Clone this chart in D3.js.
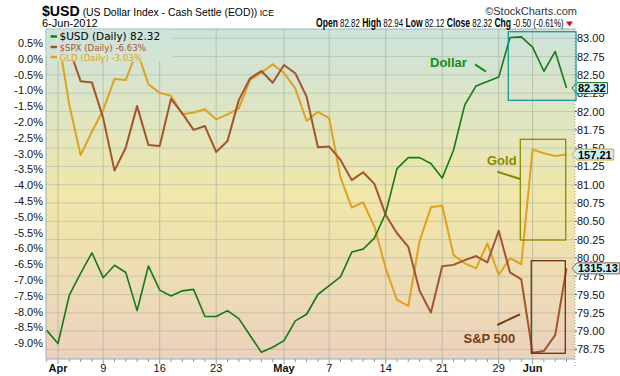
<!DOCTYPE html>
<html>
<head>
<meta charset="utf-8">
<script src="https://cdn.jsdelivr.net/npm/d3@7"></script>
<style>
  body { margin: 0; background: #fff; }
  svg { display: block; }
  text { font-family: "Liberation Sans", Arial, sans-serif; }
</style>
</head>
<body>
<svg width="620" height="376"></svg>
<script>
// trading days shown on the chart
var dates = ["2012-03-30",
  "2012-04-02","2012-04-03","2012-04-04","2012-04-05",
  "2012-04-09","2012-04-10","2012-04-11","2012-04-12","2012-04-13",
  "2012-04-16","2012-04-17","2012-04-18","2012-04-19","2012-04-20",
  "2012-04-23","2012-04-24","2012-04-25","2012-04-26","2012-04-27",
  "2012-04-30","2012-05-01","2012-05-02","2012-05-03","2012-05-04",
  "2012-05-07","2012-05-08","2012-05-09","2012-05-10","2012-05-11",
  "2012-05-14","2012-05-15","2012-05-16","2012-05-17","2012-05-18",
  "2012-05-21","2012-05-22","2012-05-23","2012-05-24","2012-05-25",
  "2012-05-29","2012-05-30","2012-05-31","2012-06-01",
  "2012-06-04","2012-06-05","2012-06-06"];

// $USD close (right axis)
var usd = [79.01, 78.83, 79.49, 79.79, 80.07, 79.73, 79.90, 79.80, 79.28, 79.89,
  79.56, 79.48, 79.55, 79.57, 79.20, 79.20, 79.28, 79.17, 78.94, 78.71,
  78.78, 78.87, 79.14, 79.23, 79.50, 79.62, 79.74, 80.08, 80.12, 80.27,
  80.61, 81.22, 81.37, 81.37, 81.29, 81.09, 81.47, 82.09, 82.35, 82.41,
  82.47, 83.01, 83.02, 82.88, 82.55, 82.82, 82.32];

// $SPX % change (left axis)
var spx = [0, 0.75, 0.32, -0.71, -0.75, -1.88, -3.54, -2.81, -1.50, -2.73,
  -2.76, -1.27, -1.73, -2.25, -2.13, -2.95, -2.60, -1.31, -0.62, -0.39,
  -0.76, -0.20, -0.46, -1.20, -2.80, -2.78, -3.20, -3.84, -3.59, -3.96,
  -4.94, -5.52, -5.95, -7.34, -8.03, -6.56, -6.52, -6.37, -6.24, -6.44,
  -5.44, -6.76, -6.98, -9.30, -9.24, -8.74, -6.63];

// GLD % change (left axis)
var gld = [0, 0.75, -1.46, -3.05, -2.31, -1.62, -0.64, -0.67, 0.25, -0.81,
  -1.08, -1.17, -1.76, -1.70, -1.60, -1.92, -1.76, -1.57, -0.67, -0.44,
  -0.18, -0.45, -0.94, -1.97, -1.68, -1.88, -3.76, -4.71, -4.54, -5.31,
  -6.63, -7.63, -7.82, -5.77, -4.70, -4.65, -6.21, -6.47, -6.63, -5.84,
  -6.84, -6.31, -6.50, -2.87, -2.99, -3.08, -3.03];

var pctTicks = [0.5, 0, -0.5, -1, -1.5, -2, -2.5, -3, -3.5, -4, -4.5, -5,
  -5.5, -6, -6.5, -7, -7.5, -8, -8.5, -9];
var priceTicks = [83, 82.75, 82.5, 82.25, 82, 81.75, 81.5, 81.25, 81, 80.75,
  80.5, 80.25, 80, 79.75, 79.5, 79.25, 79, 78.75];
var tickDates = ["2012-04-02","2012-04-09","2012-04-16","2012-04-23","2012-05-01",
  "2012-05-07","2012-05-14","2012-05-21","2012-05-29","2012-06-01"];
var tickLabels = ["Apr","9","16","23","May","7","14","21","29","Jun"];

var svg = d3.select("svg");
var pLeft = 46, pRight = 575, pTop = 29, pBottom = 359;

var x = d3.scalePoint().domain(dates).range([46.7, 566.5]);
var yL = d3.scaleLinear().domain([0, -9]).range([58.7, 343.3]);
var yR = d3.scaleLinear().domain([83, 78.75]).range([38.3, 349.4]);

var defs = svg.append("defs");
var grad = defs.append("linearGradient").attr("id", "bg")
    .attr("gradientUnits", "userSpaceOnUse")
    .attr("x1", 0).attr("y1", pTop).attr("x2", 0).attr("y2", pBottom);
grad.append("stop").attr("offset", "0%").attr("stop-color", "#cce3dc");
grad.append("stop").attr("offset", "50%").attr("stop-color", "#f1e7a9");
grad.append("stop").attr("offset", "100%").attr("stop-color", "#ebd2bd");
defs.append("clipPath").attr("id", "clip").append("rect")
    .attr("x", pLeft).attr("y", pTop).attr("width", pRight - pLeft).attr("height", pBottom - pTop);

svg.append("rect").attr("x", pLeft).attr("y", pTop)
   .attr("width", pRight - pLeft).attr("height", pBottom - pTop)
   .attr("fill", "url(#bg)");

// grid
svg.append("g").selectAll("line").data(priceTicks).enter().append("line")
   .attr("x1", pLeft).attr("x2", pRight)
   .attr("y1", function(d) { return yR(d); }).attr("y2", function(d) { return yR(d); })
   .attr("stroke", "#a8b2a4").attr("stroke-opacity", 0.55);
svg.append("g").selectAll("line").data(tickDates).enter().append("line")
   .attr("x1", function(d) { return x(d); }).attr("x2", function(d) { return x(d); })
   .attr("y1", pTop).attr("y2", pBottom)
   .attr("stroke", "#a8b2a4").attr("stroke-opacity", 0.7);

// series
var plot = svg.append("g").attr("clip-path", "url(#clip)");
var linePct = d3.line().x(function(d, i) { return x(dates[i]); }).y(function(d) { return yL(d); });
var linePrice = d3.line().x(function(d, i) { return x(dates[i]); }).y(function(d) { return yR(d); });

plot.append("path").attr("d", linePct(gld)).attr("fill", "none")
    .attr("stroke", "#dea21f").attr("stroke-width", 2).attr("stroke-linejoin", "round");
plot.append("path").attr("d", linePct(spx)).attr("fill", "none")
    .attr("stroke", "#a4532f").attr("stroke-width", 2).attr("stroke-linejoin", "round");
plot.append("path").attr("d", linePrice(usd)).attr("fill", "none")
    .attr("stroke", "#147a14").attr("stroke-width", 1.6).attr("stroke-linejoin", "round");

// frame
svg.append("line").attr("x1", pLeft).attr("x2", pRight).attr("y1", pTop).attr("y2", pTop)
   .attr("stroke", "#9ab6b8");
svg.append("line").attr("x1", pLeft).attr("x2", pRight).attr("y1", pBottom).attr("y2", pBottom)
   .attr("stroke", "#8fb0b3");
svg.append("line").attr("x1", pLeft).attr("x2", pLeft).attr("y1", pTop).attr("y2", pBottom)
   .attr("stroke", "#8fb0b3");
svg.append("line").attr("x1", pRight).attr("x2", pRight).attr("y1", pTop).attr("y2", pBottom + 8)
   .attr("stroke", "#7fa8ac").attr("stroke-dasharray", "1,2");

// bottom ticks
svg.append("g").selectAll("line").data(dates).enter().append("line")
   .attr("x1", function(d) { return x(d); }).attr("x2", function(d) { return x(d); })
   .attr("y1", pBottom).attr("y2", function(d) { return tickDates.indexOf(d) >= 0 ? pBottom + 5 : pBottom + 3; })
   .attr("stroke", "#8a9a9a");
svg.append("g").selectAll("text").data(tickDates).enter().append("text")
   .attr("x", function(d) { return x(d); }).attr("y", 372)
   .attr("text-anchor", "middle").attr("font-size", 11)
   .attr("font-weight", function(d, i) { return isNaN(+tickLabels[i]) ? "bold" : "normal"; })
   .attr("fill", "#111")
   .text(function(d, i) { return tickLabels[i]; });

// left axis
svg.append("g").selectAll("text").data(pctTicks).enter().append("text")
   .attr("x", 43).attr("y", function(d) { return yL(d) + 4; })
   .attr("text-anchor", "end").attr("font-size", 11).attr("fill", "#111")
   .text(function(d) { return d.toFixed(1) + "%"; });

// right axis
svg.append("g").selectAll("line").data(priceTicks).enter().append("line")
   .attr("x1", pRight).attr("x2", pRight + 2)
   .attr("y1", function(d) { return yR(d); }).attr("y2", function(d) { return yR(d); })
   .attr("stroke", "#555");
svg.append("g").selectAll("text").data(priceTicks).enter().append("text")
   .attr("x", 577).attr("y", function(d) { return yR(d) + 4; })
   .attr("font-size", 11).attr("fill", "#111")
   .text(function(d) { return d.toFixed(2); });

// value tags on the right
function tag(y, label, color) {
  var g = svg.append("g");
  var p = g.append("path");
  var t = g.append("text").attr("x", 578).attr("y", y + 4)
     .attr("font-size", 11).attr("font-weight", "bold").attr("fill", "#000").text(label);
  var w = t.node().getComputedTextLength() + 3;
  p.attr("d", "M572," + y + "L577," + (y - 5.5) + "H" + (577 + w) + "V" + (y + 5.5) + "H577Z")
   .attr("fill", "#cdf1f8").attr("stroke", color);
}
tag(yR(usd[usd.length - 1]), usd[usd.length - 1].toFixed(2), "#147a14");
tag(yL(gld[gld.length - 1]), "157.21", "#dea21f");
tag(yL(spx[spx.length - 1]), "1315.13", "#a4532f");

// legend
svg.append("rect").attr("x", pLeft + 0.5).attr("y", pTop + 0.5).attr("width", 126).attr("height", 32)
   .attr("fill", "url(#bg)");
var legend = [
  { name: "$USD (Daily) 82.32", color: "#147a14", text: "#000", size: 10.5, y: 40 },
  { name: "$SPX (Daily) -6.63%", color: "#a4532f", text: "#a4532f", size: 8.6, y: 50.5 },
  { name: "GLD (Daily) -3.03%", color: "#dea21f", text: "#dea21f", size: 8.6, y: 60.5 }
];
legend.forEach(function(d) {
  svg.append("line").attr("x1", 50.5).attr("x2", 57).attr("y1", d.y - 3.5).attr("y2", d.y - 3.5)
     .attr("stroke", d.color).attr("stroke-width", 2.5);
  svg.append("text").attr("x", 59.5).attr("y", d.y)
     .style("font-family", "'DejaVu Sans', Verdana, sans-serif")
     .attr("font-size", d.size).attr("fill", d.text).text(d.name);
});

// annotations
var notes = [
  { label: "Dollar", color: "#178c17", lx: 430, ly: 67, line: [475, 64.3, 486, 71.7],
    box: [508.3, 31.7, 576, 100.3], boxColor: "#1a9898" },
  { label: "Gold", color: "#8a8a00", lx: 487, ly: 165, line: [497.3, 171.7, 520, 179],
    box: [520.3, 139.3, 565.7, 240], boxColor: "#8a8a00" },
  { label: "S&P 500", color: "#7a3c14", lx: 463.5, ly: 343, line: [497.3, 325, 520, 314.3],
    box: [531.3, 260.7, 565.3, 353.3], boxColor: "#6e3210" }
];
notes.forEach(function(n) {
  svg.append("text").attr("x", n.lx).attr("y", n.ly)
     .attr("font-size", 13).attr("font-weight", "bold").attr("fill", n.color).text(n.label);
  svg.append("line").attr("x1", n.line[0]).attr("y1", n.line[1]).attr("x2", n.line[2]).attr("y2", n.line[3])
     .attr("stroke", n.color).attr("stroke-width", 2);
  svg.append("rect").attr("x", n.box[0]).attr("y", n.box[1])
     .attr("width", n.box[2] - n.box[0]).attr("height", n.box[3] - n.box[1])
     .attr("fill", "none").attr("stroke", n.boxColor).attr("stroke-width", 1.3);
});

// header (narrow font look: squeeze horizontally to the reference width)
function squeeze(g, x0, width) {
  var w = g.node().getBBox().width;
  g.attr("transform", "translate(" + x0 + ",0) scale(" + (width / w) + ",1)");
}
var g1 = svg.append("g");
var h1 = g1.append("text").attr("x", 0).attr("y", 16).attr("fill", "#000");
h1.append("tspan").attr("font-size", 15).attr("font-weight", "bold").text("$USD");
h1.append("tspan").attr("font-size", 11).text(" (US Dollar Index - Cash Settle (EOD))");
h1.append("tspan").attr("font-size", 9).text(" ICE");
squeeze(g1, 42, 232);

svg.append("text").attr("x", 577).attr("y", 15).attr("text-anchor", "end")
   .attr("font-size", 11).attr("fill", "#333").text("\u00a9StockCharts.com");
svg.append("text").attr("x", 42).attr("y", 27).attr("font-size", 11).attr("fill", "#000").text("6-Jun-2012");

var stats = [["Open", "82.82"], ["High", "82.94"], ["Low", "82.12"], ["Close", "82.32"], ["Chg", "-0.50 (-0.61%)"]];
var g2 = svg.append("g");
var h2 = g2.append("text").attr("x", 0).attr("y", 27).attr("fill", "#000");
stats.forEach(function(s, i) {
  h2.append("tspan").attr("font-size", 12.5).attr("font-weight", "bold").text((i ? " " : "") + s[0]);
  h2.append("tspan").attr("font-size", 11.5).text(" " + s[1]);
});
squeeze(g2, 316, 248);
svg.append("path").attr("d", "M566,21.5H573L569.5,26.5Z").attr("fill", "#cc1122");
</script>
</body>
</html>
